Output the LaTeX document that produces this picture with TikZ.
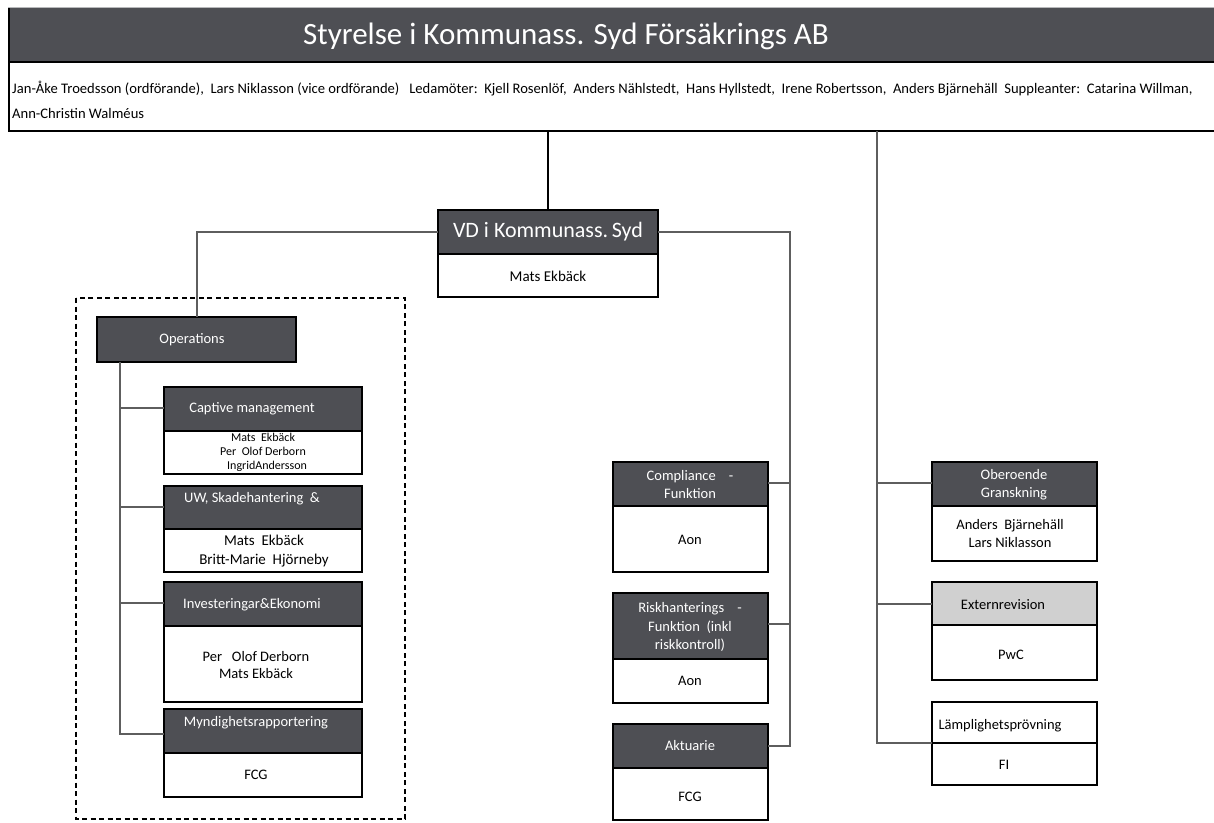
\documentclass[tikz,border=0pt]{standalone}
\usepackage{fontspec}
\setmainfont{Carlito}
\begin{document}
\begin{tikzpicture}[x=1pt,y=-1pt,
  dk/.style={draw=black,line width=1.6pt,fill=darkfill,text=white,inner sep=0pt},
  wt/.style={draw=black,line width=1.6pt,fill=white,text=black,inner sep=0pt},
  gy/.style={draw=black,line width=1.6pt,fill=lightfill,text=black,inner sep=0pt},
  conn/.style={draw=connc,line width=1.8pt},
  txt/.style={inner sep=0pt,align=center},
  fs/.style={font=\fontsize{14.5}{18}\selectfont}]
\definecolor{darkfill}{HTML}{4E4F54}
\definecolor{lightfill}{HTML}{D0D0D0}
\definecolor{connc}{HTML}{5E5E5E}
\useasboundingbox (0,0) rectangle (1214,822);
\fill[white] (0,0) rectangle (1214,822);
% header
\draw[darkfill!40,line width=1pt] (8,7) -- (1214,7);
\fill[darkfill] (8,8) rectangle (1216,62);
\draw[black,line width=2pt] (9,62) -- (1216,62);
\draw[black,line width=2.4pt] (9,8) -- (9,131) -- (1216,131);
\node[txt,text=white,font=\fontsize{31}{36}\selectfont] (title) at (566,36) {Styrelse i Kommunass. Syd Försäkrings AB};
\node[txt,anchor=west,font=\fontsize{14.6}{17}\selectfont] (board1) at (12,89) {Jan-Åke Troedsson (ordförande),\ \ Lars Niklasson (vice ordförande)\ \ \ Ledamöter:\ \ Kjell Rosenlöf,\ \ Anders Nählstedt,\ \ Hans Hyllstedt,\ \ Irene Robertsson,\ \ Anders Bjärnehäll\ \ Suppleanter:\ \ Catarina Willman,};
\node[txt,anchor=west,font=\fontsize{14.6}{17}\selectfont] (board2) at (12,113) {Ann-Christin Walméus};
\coordinate (hb1) at (548,131);
\coordinate (hb2) at (877,131);
% VD
\path[dk] (438,210) rectangle (658,254);
\path[wt] (438,254) rectangle (658,297);
\node[txt,text=white,font=\fontsize{22}{26}\selectfont] (vd) at (548,232) {VD i Kommunass.\,Syd};
\node[txt,font=\fontsize{15}{18}\selectfont] (vdn) at (548,276) {Mats Ekbäck};
\coordinate (vdt) at (548,210);
\coordinate (vdl) at (438,232);
\coordinate (vdr) at (658,232);
% dashed group
\draw[black,line width=1.6pt,dash pattern=on 5pt off 3.5pt] (76,298) rectangle (405,819);
% Operations
\path[dk] (97,317) rectangle (296,362);
\node[txt,text=white,fs] (ops) at (192,340) {Operations};
\coordinate (opst) at (197,317);
\coordinate (opsb) at (120,362);
% Captive
\path[dk] (164,387) rectangle (362,431);
\path[wt] (164,431) rectangle (362,474);
\node[txt,text=white,fs] (cap) at (252,409) {Captive management};
\node[txt,font=\fontsize{12}{14}\selectfont] (capn) at (263,452) {Mats\ \ Ekbäck\\Per\ \ Olof Derborn\\\ \ \ IngridAndersson};
% UW
\path[dk] (164,486) rectangle (362,529);
\path[wt] (164,529) rectangle (362,572);
\node[txt,text=white,fs] (uw) at (252,499) {UW, Skadehantering\ \ \&};
\node[txt,font=\fontsize{15}{19}\selectfont] (uwn) at (264,551) {Mats\ \ Ekbäck\\Britt-Marie\ \ Hjörneby};
% Investeringar
\path[dk] (164,582) rectangle (362,626);
\path[wt] (164,626) rectangle (362,702);
\node[txt,text=white,fs] (inv) at (252,605) {Investeringar\&Ekonomi};
\node[txt,fs,font=\fontsize{14.5}{17}\selectfont] (invn) at (256,665) {Per\ \ \ Olof Derborn\\Mats\ Ekbäck};
% Myndighet
\path[dk] (164,709) rectangle (362,753);
\path[wt] (164,753) rectangle (362,797);
\node[txt,text=white,fs] (myn) at (256,723) {Myndighetsrapportering};
\node[txt,fs] (mynn) at (256,775) {FCG};
% middle column
\path[dk] (613,462) rectangle (768,506);
\path[wt] (613,506) rectangle (768,572);
\node[txt,text=white,fs] (comp) at (690,485) {Compliance\ \ \ \ -\\Funktion};
\node[txt,fs] (compn) at (690,540) {Aon};
\path[dk] (613,593) rectangle (768,659);
\path[wt] (613,659) rectangle (768,703);
\node[txt,text=white,font=\fontsize{14.5}{18.5}\selectfont] (risk) at (690,627) {Riskhanterings\ \ \ \ -\\Funktion\ \ (inkl\\riskkontroll)};
\node[txt,fs] (riskn) at (690,681) {Aon};
\path[dk] (613,724) rectangle (768,768);
\path[wt] (613,768) rectangle (768,820);
\node[txt,text=white,fs] (akt) at (690,746) {Aktuarie};
\node[txt,fs] (aktn) at (690,797) {FCG};
% right column
\path[dk] (932,462) rectangle (1097,506);
\path[wt] (932,506) rectangle (1097,561);
\node[txt,text=white,fs] (obe) at (1014,485) {Oberoende\\Granskning};
\node[txt,fs] (oben) at (1010,534) {Anders\ \ Bjärnehäll\\Lars Niklasson};
\path[gy] (932,582) rectangle (1097,625);
\path[wt] (932,625) rectangle (1097,680);
\node[txt,fs] (ext) at (1003,605) {Externrevision};
\node[txt,fs] (extn) at (1011,655) {PwC};
\path[wt] (932,702) rectangle (1097,743);
\path[wt] (932,743) rectangle (1097,785);
\node[txt,fs] (lamp) at (1000,726) {Lämplighetsprövning};
\node[txt,fs] (lampn) at (1004,765) {FI};
% connectors
\draw[black,line width=1.8pt] (hb1) -- (vdt);
\draw[conn] (vdl) -| (opst);
\draw[conn] (vdr) -- (790,232) |- (768,746);
\draw[conn] (790,483) -- (768,483);
\draw[conn] (790,624) -- (768,624);
\draw[conn] (hb2) |- (932,743);
\draw[conn] (877,483) -- (932,483);
\draw[conn] (877,604) -- (932,604);
\draw[conn] (opsb) |- (164,734);
\draw[conn] (120,408) -- (164,408);
\draw[conn] (120,507) -- (164,507);
\draw[conn] (120,603) -- (164,603);
\end{tikzpicture}
\end{document}
